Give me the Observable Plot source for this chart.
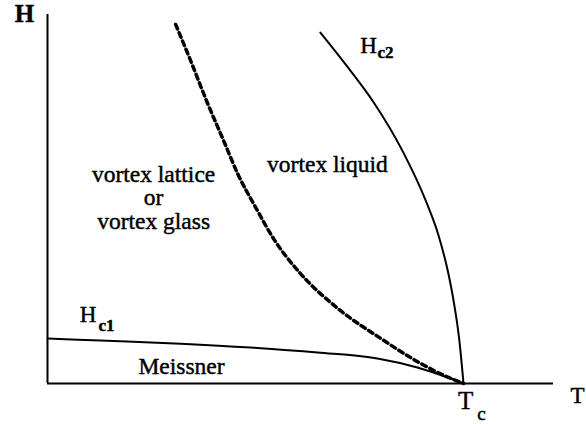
<!DOCTYPE html>
<html>
<head>
<meta charset="utf-8">
<script src="https://cdn.jsdelivr.net/npm/d3@7"></script>
<script src="https://cdn.jsdelivr.net/npm/@observablehq/plot@0.6"></script>
<style>
  html, body { margin: 0; padding: 0; background: #fff; }
  #chart svg { display: block; }
</style>
</head>
<body>
<div id="chart"></div>
<script>
// Schematic H–T phase diagram of a type-II (high-Tc) superconductor.
// T is in units of Tc, H in units of the top of the field axis.

// Upper critical field Hc2(T)
const hc2T = [0.656, 0.724, 0.781, 0.853, 0.909, 0.940, 0.962, 0.976, 0.990, 1.000];
const hc2H = [0.951, 0.854, 0.767, 0.631, 0.496, 0.401, 0.306, 0.225, 0.117, 0.000];

// Melting / glass line separating vortex solid from vortex liquid
const meltT = [0.308, 0.344, 0.382, 0.423, 0.459, 0.498, 0.546, 0.608, 0.695, 0.808, 0.873, 0.938, 1.000];
const meltH = [0.973, 0.875, 0.767, 0.659, 0.564, 0.482, 0.388, 0.298, 0.206, 0.117, 0.070, 0.030, 0.000];

// Lower critical field Hc1(T)
const hc1T = [0.000, 0.127, 0.320, 0.488, 0.649, 0.793, 0.889, 0.969, 1.000];
const hc1H = [0.122, 0.1165, 0.108, 0.0976, 0.084, 0.0678, 0.0434, 0.0136, 0.000];

// Axis extents
const tMax = 1.2163;
const hMax = 1.0;

// Region labels
const regionText = ["vortex lattice\nor\nvortex glass", "vortex liquid", "Meissner"];
const regionT    = [0.255, 0.673, 0.322];
const regionH    = [0.420, 0.572, 0.027];

// Axis and curve names (main letter + subscript)
const nameText = ["T", "T", "H", "H"];
const nameT    = [1.274, 1.005, 0.772, 0.0974];
const nameH    = [-0.0515, -0.0678, 0.897, 0.168];
const nameSize = [23, 25, 23, 23];
const boldSubText = ["c2", "c1"];
const boldSubT    = [0.8125, 0.142];
const boldSubH    = [0.881, 0.141];
const subText = ["c"];
const subT    = [1.043];
const subH    = [-0.0976];
const fieldText = ["H"];
const fieldT    = [-0.0553];
const fieldH    = [0.981];

const toRows = (xs, ys, labels, sizes) => xs.map((x, i) => ({x, y: ys[i], label: labels ? labels[i] : undefined, size: sizes ? sizes[i] : undefined}));

const hc2 = toRows(hc2T, hc2H);
const melt = toRows(meltT, meltH);
const hc1 = toRows(hc1T, hc1H);

const serif = "'Liberation Serif', 'Times New Roman', serif";
const ink = {fill: "#000", stroke: "#000", strokeWidth: 0.45, lineAnchor: "bottom", textAnchor: "middle"};

const chart = Plot.plot({
  width: 586,
  height: 424,
  marginLeft: 47,
  marginRight: 33,
  marginTop: 14,
  marginBottom: 41,
  style: {fontFamily: serif, background: "#fff", overflow: "visible"},
  x: {domain: [0, tMax], axis: null},
  y: {domain: [0, hMax], axis: null},
  marks: [
    // axes
    Plot.ruleX([0], {y1: 0, y2: hMax, stroke: "#000", strokeWidth: 2}),
    Plot.ruleY([0], {x1: 0, x2: tMax, stroke: "#000", strokeWidth: 2}),
    // phase boundaries
    Plot.line(hc1, {x: "x", y: "y", curve: "monotone-x", stroke: "#000", strokeWidth: 2}),
    Plot.line(hc2, {x: "x", y: "y", curve: "monotone-x", stroke: "#000", strokeWidth: 2}),
    Plot.line(melt, {x: "x", y: "y", curve: "monotone-x", stroke: "#000", strokeWidth: 3.5, strokeDasharray: "5,4"}),
    // region labels
    Plot.text(toRows(regionT, regionH, regionText), {x: "x", y: "y", text: "label", fontSize: 23.5, lineHeight: 1.0, ...ink}),
    // axis and curve names
    Plot.text(toRows(fieldT, fieldH, fieldText), {x: "x", y: "y", text: "label", fontSize: 25, fontWeight: "bold", ...ink}),
    Plot.text(toRows(nameT, nameH, nameText, nameSize), {x: "x", y: "y", text: "label", fontSize: "size", ...ink}),
    Plot.text(toRows(boldSubT, boldSubH, boldSubText), {x: "x", y: "y", text: "label", fontSize: 17, fontWeight: "bold", ...ink}),
    Plot.text(toRows(subT, subH, subText), {x: "x", y: "y", text: "label", fontSize: 19, ...ink})
  ]
});

document.getElementById("chart").appendChild(chart);
</script>
</body>
</html>
